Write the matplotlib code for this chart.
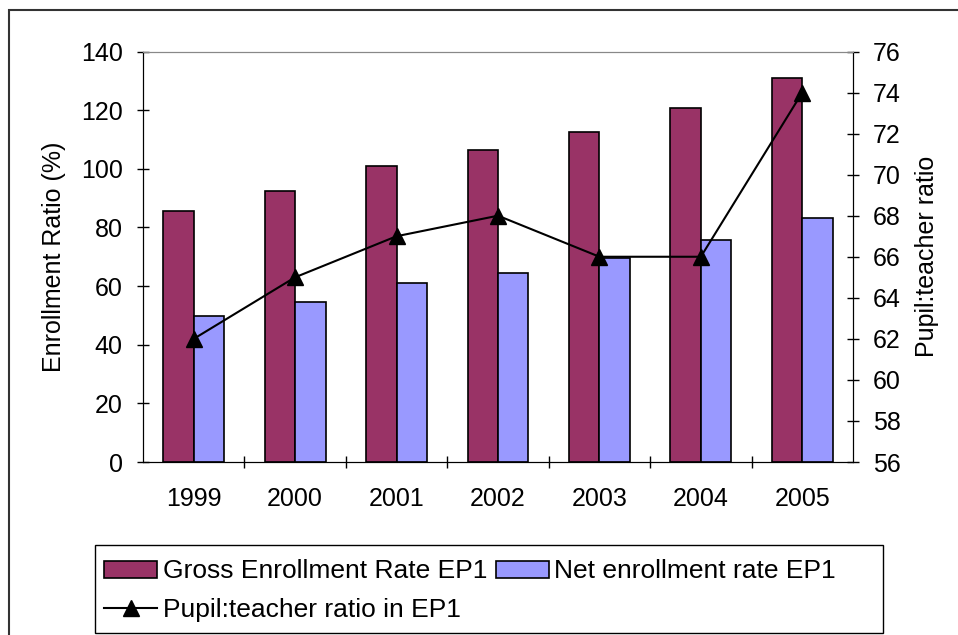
import matplotlib.pyplot as plt
from matplotlib.patches import Rectangle

plt.rcParams['font.family'] = ['Liberation Sans', 'DejaVu Sans']
plt.rcParams['font.size'] = 18

years = ['1999', '2000', '2001', '2002', '2003', '2004', '2005']
gross = [85.5, 92.3, 101.0, 106.5, 112.6, 120.7, 131.1]
net = [49.8, 54.7, 60.9, 64.3, 69.5, 75.8, 83.2]
ratio = [62, 65, 67, 68, 66, 66, 74]

W, H = 958, 635
fig = plt.figure(figsize=(W / 100, H / 100), dpi=100)
ax = fig.add_axes([143 / W, 1 - 462 / H, 710 / W, 410.5 / H])

x = list(range(len(years)))
bw = 0.3
ax.bar([i - bw / 2 for i in x], gross, bw, color='#993366', edgecolor='black',
       linewidth=1.2, label='Gross Enrollment Rate EP1', zorder=2)
ax.bar([i + bw / 2 for i in x], net, bw, color='#9999FF', edgecolor='black',
       linewidth=1.2, label='Net enrollment rate EP1', zorder=2)
ax.set_xlim(-0.5, 6.5)
ax.set_ylim(0, 140)
ax.set_yticks(range(0, 141, 20))
ax.set_ylabel('Enrollment Ratio (%)', labelpad=11)

# year labels at centres, tick marks on group boundaries
ax.set_xticks(x)
ax.set_xticklabels(years)
ax.tick_params(axis='x', which='major', length=0, pad=18)
ax.set_xticks([i + 0.5 for i in x[:-1]], minor=True)
ax.tick_params(axis='x', which='minor', direction='inout', length=9, width=1)
ax.tick_params(axis='y', direction='inout', length=9, width=1, pad=10)

ax.spines['top'].set_color('#888888')

ax2 = ax.twinx()
ax2.plot(x, ratio, color='black', linewidth=1.5, marker='^', markersize=12,
         label='Pupil:teacher ratio in EP1', zorder=3)
ax2.set_ylim(56, 76)
ax2.set_yticks(range(56, 77, 2))
ax2.tick_params(axis='y', direction='inout', length=9, width=1, pad=10)
ax2.set_ylabel('Pupil:teacher ratio', labelpad=10)
ax2.spines['top'].set_color('#888888')

# outer chart frame
fig.patches.append(Rectangle((9 / W, -0.1), 1.2, 1 - 10 / H + 0.1,
                             transform=fig.transFigure, fill=False,
                             edgecolor='#333333', linewidth=1.5))

# legend box
fig.patches.append(Rectangle((95 / W, 2 / H), 788 / W, 88 / H,
                             transform=fig.transFigure, fill=False,
                             edgecolor='black', linewidth=1))
h1, l1 = ax.get_legend_handles_labels()
h2, l2 = ax2.get_legend_handles_labels()
fig.legend([h1[0], h2[0], h1[1]], [l1[0], l2[0], l1[1]], ncol=2,
           loc='upper left', bbox_to_anchor=(86 / W, 1 - 541 / H),
           frameon=False, fontsize=19, handlelength=2.0, handleheight=0.6,
           handletextpad=0.2, columnspacing=0.35, labelspacing=0.55,
           borderpad=0.2)

fig.savefig('out.png', dpi=100)
